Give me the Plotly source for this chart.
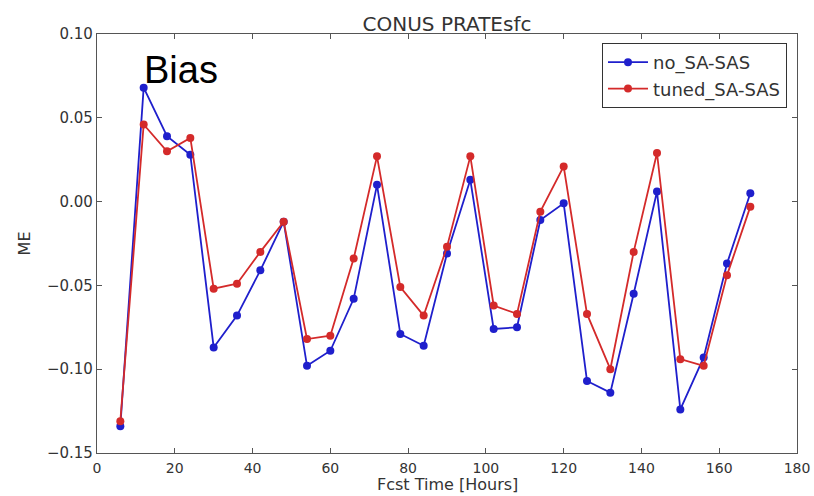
import plotly.graph_objects as go

hours = [6, 12, 18, 24, 30, 36, 42, 48, 54, 60, 66, 72, 78, 84, 90, 96, 102, 108,
         114, 120, 126, 132, 138, 144, 150, 156, 162, 168]
no_sa_sas = [-0.134, 0.068, 0.039, 0.028, -0.087, -0.068, -0.041, -0.012, -0.098,
             -0.089, -0.058, 0.010, -0.079, -0.086, -0.031, 0.013, -0.076, -0.075,
             -0.011, -0.001, -0.107, -0.114, -0.055, 0.006, -0.124, -0.093, -0.037, 0.005]
tuned_sa_sas = [-0.131, 0.046, 0.030, 0.038, -0.052, -0.049, -0.030, -0.012, -0.082,
                -0.080, -0.034, 0.027, -0.051, -0.068, -0.027, 0.027, -0.062, -0.067,
                -0.006, 0.021, -0.067, -0.100, -0.030, 0.029, -0.094, -0.098, -0.044, -0.003]
x_ticks = [0, 20, 40, 60, 80, 100, 120, 140, 160, 180]
y_ticks = [-0.15, -0.10, -0.05, 0.00, 0.05, 0.10]

BLUE = "#1f1fcc"
RED = "#d42a2a"
TXT = "#333"
FONT = "DejaVu Sans"

fig = go.Figure()
fig.add_trace(go.Scatter(x=hours, y=no_sa_sas, mode="lines+markers", name="no_SA-SAS",
                         line=dict(color=BLUE, width=1.8), marker=dict(color=BLUE, size=8)))
fig.add_trace(go.Scatter(x=hours, y=tuned_sa_sas, mode="lines+markers", name="tuned_SA-SAS",
                         line=dict(color=RED, width=1.8), marker=dict(color=RED, size=8)))

axis_common = dict(showgrid=False, zeroline=False, showline=True, linecolor="#555",
                   linewidth=1.2, mirror="ticks", ticks="inside", ticklen=5,
                   tickcolor="#555", automargin=False)

fig.update_xaxes(range=[0, 180], tickvals=x_ticks, ticktext=[str(v) for v in x_ticks],
                 tickfont=dict(family=FONT, size=14, color=TXT), ticklabelstandoff=2,
                 **axis_common)
fig.update_yaxes(range=[-0.15, 0.10], tickvals=y_ticks, tickformat=".2f",
                 tickfont=dict(family=FONT, size=15, color=TXT),
                 **axis_common)

# axis titles
fig.add_annotation(text="Fcst Time [Hours]", xref="paper", yref="paper", x=0.5, y=-0.1026,
                   xanchor="center", yanchor="bottom", showarrow=False,
                   font=dict(family=FONT, size=16, color=TXT))
fig.add_annotation(text="ME", xref="paper", yref="paper", x=-0.103, y=0.5,
                   xanchor="center", yanchor="middle", textangle=-90, showarrow=False,
                   font=dict(family=FONT, size=16, color=TXT))

fig.add_annotation(text="Bias", xref="x", yref="y", x=11.6, y=0.0922, xanchor="left",
                   yanchor="top", showarrow=False,
                   font=dict(family="Liberation Sans", size=38, color="black"))

fig.update_layout(
    width=814, height=496,
    margin=dict(l=97, r=17, t=34, b=43),
    paper_bgcolor="white", plot_bgcolor="white",
    title=dict(text="CONUS PRATEsfc", x=0.5, xref="paper", y=1, yref="paper",
               yanchor="bottom", pad=dict(b=3),
               font=dict(family=FONT, size=20, color=TXT)),
    legend=dict(x=0.9857, y=0.9785, xanchor="right", yanchor="top",
                bordercolor="#333", borderwidth=1, bgcolor="white",
                font=dict(family=FONT, size=18, color=TXT),
                itemwidth=40),
    showlegend=True,
)

fig.write_html("out.html", config={"displayModeBar": False},
               post_script="document.body.style.margin='0';")
